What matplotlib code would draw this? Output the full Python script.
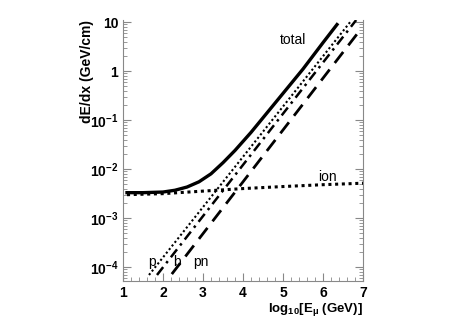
import numpy as np
import matplotlib.pyplot as plt

plt.rcParams['font.family'] = ['Liberation Sans', 'DejaVu Sans']
plt.rcParams['mathtext.fontset'] = 'custom'
plt.rcParams['mathtext.rm'] = 'Liberation Sans:bold'
plt.rcParams['mathtext.it'] = 'Liberation Sans:bold'

# log10(E/GeV) and dE/dx (GeV/cm)
total_logE = [1.1, 1.5, 2.0, 2.3, 2.6, 2.9, 3.2, 3.5, 3.8, 4.2, 4.6, 5.0, 5.5, 6.0, 6.35]
total_dedx = [3.3e-3, 3.3e-3, 3.4e-3, 3.7e-3, 4.3e-3, 5.5e-3, 8.0e-3, 1.35e-2,
              2.4e-2, 5.6e-2, 0.14, 0.35, 1.1, 3.8, 8.9]

ion_logE = [1.1, 2.0, 3.0, 4.0, 5.0, 6.0, 7.0]
ion_dedx = [3.0e-3, 3.15e-3, 3.55e-3, 4.0e-3, 4.4e-3, 4.8e-3, 5.15e-3]

pair_logE = [1.65, 6.7]
pair_dedx = [6.9e-5, 10.5]

brems_logE = [1.85, 6.83]
brems_dedx = [6.9e-5, 11.0]

pn_logE = [2.22, 6.93]
pn_dedx = [7.2e-5, 6.9]

fig = plt.figure(figsize=(4.74, 3.34), dpi=100)
ax = fig.add_axes([0.2595, 0.1587, 0.5063, 0.7813])

ax.plot(total_logE, total_dedx, color='black', lw=2.4, ls='-')
ax.plot(ion_logE, ion_dedx, color='black', lw=2.2, ls=(0, (1, 1.2)))
ax.plot(pair_logE, pair_dedx, color='black', lw=1.5, ls=(0, (1, 1.2)))
ax.plot(brems_logE, brems_dedx, color='black', lw=1.8, ls=(0, (4, 2, 1, 2)))
ax.plot(pn_logE, pn_dedx, color='black', lw=2.0, ls=(0, (5, 3)))

ax.set_yscale('log')
ax.set_xlim(1, 7)
ax.set_ylim(5.2e-5, 11)

ax.text(5.25, 4.3, 'total', fontsize=10, ha='center', va='center')
ax.text(6.1, 7.0e-3, 'ion', fontsize=10, ha='center', va='center')
ax.text(1.73, 1.25e-4, 'p', fontsize=10, ha='center', va='center')
ax.text(2.35, 1.25e-4, 'b', fontsize=10, ha='center', va='center')
ax.text(2.95, 1.25e-4, 'pn', fontsize=10, ha='center', va='center')

ax.set_xticks([1, 2, 3, 4, 5, 6, 7])
ax.set_xticks(np.arange(1, 7.01, 0.2), minor=True)
ax.set_yticks([1e-4, 1e-3, 1e-2, 1e-1, 1, 10])
ax.set_yticklabels(['$10^{-4}$', '$10^{-3}$', '$10^{-2}$', '$10^{-1}$', '1', '10'])

ax.tick_params(which='both', direction='in', right=True, top=False,
               color='#888888', labelsize=10)
ax.tick_params(which='major', length=6)
ax.tick_params(which='minor', length=3)
for lab in ax.get_xticklabels() + ax.get_yticklabels():
    lab.set_fontweight('bold')

for side in ['left', 'bottom', 'right']:
    ax.spines[side].set_color('#888888')
ax.spines['top'].set_visible(False)

ax.set_xlabel('log$_{10}$[E$_{\\mu}$ (GeV)]', fontsize=9.5, fontweight='bold',
              loc='right', labelpad=1)
ax.set_ylabel('dE/dx (GeV/cm)', fontsize=10, fontweight='bold',
              loc='top', labelpad=-3)

fig.savefig('out.png', dpi=100)
